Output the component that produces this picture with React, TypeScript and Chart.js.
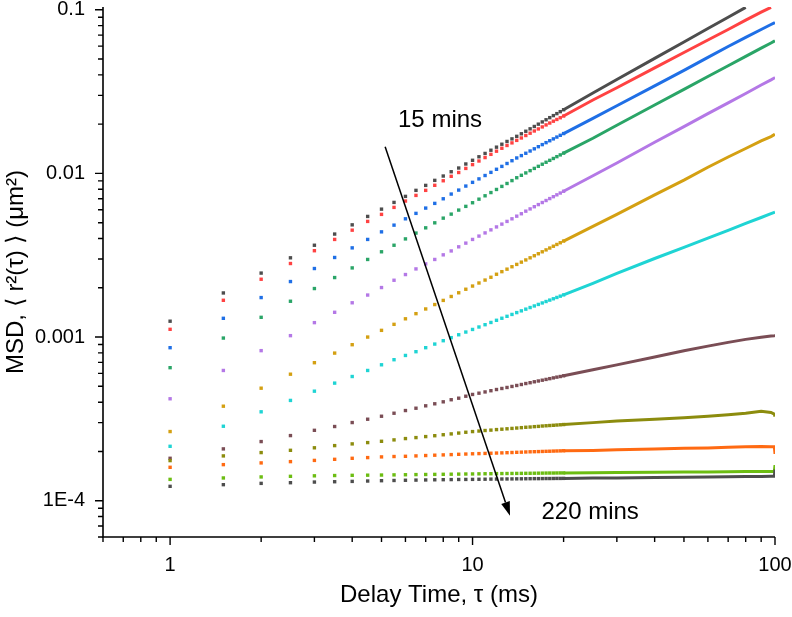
import { useEffect, useRef } from "react";
import { Chart, registerables } from "chart.js";

Chart.register(...registerables);

// Delay times (ms) of the separately visible dots
const dotTau = [1, 1.5, 2, 2.5, 3, 3.5, 4, 4.5, 5, 5.5, 6, 6.5, 7, 7.5, 8, 8.5, 9, 9.5, 10,
  10.5, 11, 11.5, 12, 12.5, 13, 13.5, 14, 14.5, 15, 15.5, 16, 16.5, 17, 17.5, 18, 18.5, 19, 19.5, 20];
// Delay times (ms) where the dots merge into a continuous trace
const lineTau = [20, 25, 30, 40, 50, 60, 70, 80, 90, 97, 99.5, 100];

// MSD values in units of 1e-4 µm², one array per incubation time (15 mins -> 220 mins)
const UNIT = 1e-4;
const s01Dots = [12.5, 18.6, 24.6, 30.5, 36.4, 42.6, 48.5, 54.6, 60.5, 66.5, 72.4, 78.8, 84.5, 90.7, 96.4, 102.4, 107.9, 114.2, 120.3,
  126.4, 132.5, 138.6, 144.7, 150.8, 156.8, 162.6, 168.5, 174.7, 181, 187.3, 193.6, 200, 206.4, 212.8, 219.2, 225.6, 232, 238.5, 245];
const s01Line = [245, 310, 375, 505, 635, 768, 900, 1035, null, null, null, null];
const s02Dots = [11.15, 16.78, 22.56, 28.15, 33.7, 39.5, 45.0, 50.9, 56.2, 62.0, 67.8, 73.4, 78.8, 84.6, 90.2, 96.0, 101.3, 107.3, 113.2,
  119.1, 125, 130.8, 136.7, 142.5, 148.2, 153.7, 159.2, 164.7, 170.5, 176.1, 181.7, 187, 192.4, 197.9, 203.2, 208.5, 213.7, 218.9, 224.2];
const s02Line = [224.2, 281, 334, 442, 548, 654, 758, 864, 967, 1035, null, null];
const s03Dots = [8.61, 13.02, 17.43, 21.84, 26.23, 30.64, 35.08, 39.5, 43.95, 48.3, 52.8, 57.0, 61.4, 65.6, 70.0, 74.8, 79.1, 83.7, 88.2,
  92.6, 97.1, 101.5, 106, 110.4, 115, 119.6, 124.3, 128.5, 132.8, 137.1, 141.4, 145.7, 150, 154.2, 158.4, 162.6, 166.8, 171, 175.2];
const s03Line = [175.2, 217, 259, 343, 426, 512, 597, 678, 758, 813, 832, 837];
const s04Dots = [6.5, 9.86, 13.2, 16.55, 19.79, 23.1, 26.46, 29.8, 33.2, 36.4, 39.8, 43.2, 46.5, 49.9, 53.3, 56.4, 59.7, 62.9, 66.2,
  69.6, 73, 76.4, 79.8, 83.3, 86.8, 90.4, 94.1, 97.4, 100.7, 104, 107.3, 110.5, 113.8, 117, 120.2, 123.4, 126.6, 129.8, 133];
const s04Line = [133, 164, 197, 262, 326, 391, 455, 519, 583, 627, 643, 647];
const s05Dots = [4.196, 6.25, 8.26, 10.2, 12.25, 14.17, 16.2, 18.06, 20.07, 22.24, 24.1, 26.09, 28.0, 29.8, 31.8, 33.6, 35.6, 37.5, 39.5,
  41.4, 43.3, 45.2, 47.1, 49.0, 50.9, 52.8, 54.8, 56.7, 58.8, 60.7, 62.6, 64.5, 66.4, 68.3, 70.2, 72.1, 74.0, 75.9, 77.8];
const s05Line = [77.8, 96.8, 115.8, 155, 193, 232, 270, 308, 347, 373, 383, 385];
const s06Dots = [2.646, 3.78, 4.87, 5.93, 6.97, 7.98, 8.98, 10.0, 10.99, 11.96, 12.93, 13.9, 14.85, 15.8, 16.75, 17.7, 18.65, 19.6, 20.5,
  21.4, 22.3, 23.2, 24.2, 25.1, 26.0, 26.9, 27.8, 28.7, 29.6, 30.5, 31.4, 32.3, 33.2, 34.1, 35.0, 35.9, 36.8, 37.7, 38.6];
const s06Line = [38.6, 47.5, 56.2, 74, 91, 109, 126, 142, 158, 168, 172.5, 174];
const s07Dots = [2.15, 2.851, 3.493, 4.1, 4.67, 5.23, 5.74, 6.25, 6.77, 7.27, 7.72, 8.14, 8.61, 9.06, 9.5, 9.92, 10.33, 10.73, 11.13,
  11.52, 11.9, 12.28, 12.66, 13.03, 13.39, 13.75, 14.11, 14.46, 14.81, 15.15, 15.49, 15.83, 16.16, 16.49, 16.82, 17.14, 17.46, 17.78, 18.1];
const s07Line = [18.1, 21.3, 24.5, 30.2, 35.3, 40.2, 44.9, 49.5, 53.8, 56.8, 57.8, 58.0];
const s08Dots = [1.816, 2.073, 2.298, 2.5, 2.692, 2.84, 3.003, 3.147, 3.282, 3.424, 3.556, 3.674, 3.8, 3.91, 4.02, 4.14, 4.23, 4.35, 4.46,
  4.54, 4.62, 4.7, 4.78, 4.85, 4.92, 4.99, 5.06, 5.13, 5.2, 5.26, 5.33, 5.39, 5.45, 5.51, 5.57, 5.63, 5.69, 5.74, 5.8];
const s08Line = [5.8, 6.31, 6.76, 7.55, 8.25, 8.8, 9.28, 9.68, 9.98, 10.15, 10.2, 10.22];
const s09Dots = [1.758, 1.878, 1.968, 2.032, 2.105, 2.171, 2.224, 2.265, 2.307, 2.353, 2.397, 2.43, 2.465, 2.495, 2.53, 2.56, 2.59, 2.62, 2.645,
  2.665, 2.685, 2.7, 2.72, 2.735, 2.75, 2.765, 2.78, 2.795, 2.81, 2.82, 2.835, 2.845, 2.86, 2.87, 2.88, 2.89, 2.9, 2.91, 2.92];
const s09Line = [2.92, 3.0, 3.07, 3.15, 3.21, 3.28, 3.35, 3.42, 3.52, 3.46, 3.38, 3.27];
const s10Dots = [1.6, 1.661, 1.702, 1.733, 1.763, 1.79, 1.816, 1.834, 1.852, 1.862, 1.868, 1.878, 1.888, 1.897, 1.905, 1.913, 1.921, 1.928, 1.935,
  1.94, 1.945, 1.95, 1.955, 1.96, 1.965, 1.97, 1.975, 1.98, 1.985, 1.99, 1.993, 1.996, 2.0, 2.003, 2.006, 2.01, 2.013, 2.016, 2.02];
const s10Line = [2.02, 2.03, 2.045, 2.07, 2.09, 2.1, 2.12, 2.135, 2.145, 2.14, 2.14, 1.93];
const s11Dots = [1.35, 1.377, 1.397, 1.409, 1.419, 1.425, 1.429, 1.432, 1.435, 1.438, 1.441, 1.444, 1.446, 1.448, 1.45, 1.452, 1.454, 1.456, 1.457,
  1.459, 1.461, 1.462, 1.464, 1.465, 1.466, 1.467, 1.468, 1.469, 1.47, 1.471, 1.472, 1.473, 1.474, 1.475, 1.476, 1.476, 1.477, 1.478, 1.478];
const s11Line = [1.478, 1.482, 1.485, 1.49, 1.495, 1.5, 1.503, 1.507, 1.51, 1.51, 1.51, 1.65];
const s12Dots = [1.224, 1.253, 1.276, 1.288, 1.3, 1.306, 1.312, 1.319, 1.325, 1.329, 1.333, 1.336, 1.339, 1.342, 1.344, 1.346, 1.348, 1.349, 1.35,
  1.352, 1.353, 1.355, 1.356, 1.357, 1.358, 1.359, 1.36, 1.361, 1.362, 1.363, 1.364, 1.364, 1.365, 1.366, 1.366, 1.367, 1.368, 1.368, 1.369];
const s12Line = [1.369, 1.374, 1.378, 1.385, 1.392, 1.397, 1.401, 1.405, 1.408, 1.409, 1.409, 1.55];

const seriesColors = ["#4d4d4d", "#ff4242", "#1f6fe6", "#2aa567", "#b478e6", "#d4a012", "#1fd4d4",
  "#7a4d55", "#8c8c0e", "#ff6a12", "#6cbd12", "#4d4d4d"];

// Axis ticks
const xTicks = [0.6, 0.7, 0.8, 0.9, 1, 2, 3, 4, 5, 6, 7, 8, 9, 10, 20, 30, 40, 50, 60, 70, 80, 90, 100];
const xMajor = [1, 10, 100];
const xMajorLabels = ["1", "10", "100"];
const yTicks = [6e-5, 7e-5, 8e-5, 9e-5, 1e-4, 2e-4, 3e-4, 4e-4, 5e-4, 6e-4, 7e-4, 8e-4, 9e-4,
  1e-3, 2e-3, 3e-3, 4e-3, 5e-3, 6e-3, 7e-3, 8e-3, 9e-3, 0.01, 0.02, 0.03, 0.04, 0.05, 0.06, 0.07, 0.08, 0.09, 0.1];
const yMajor = [1e-4, 1e-3, 0.01, 0.1];
const yMajorLabels = ["1E-4", "0.001", "0.01", "0.1"];

// Annotations (data coordinates)
const arrowFrom = [5.14, 0.01457];
const arrowTo = [13.3, 8.09e-5];
const noteTop = { text: "15 mins", tau: 5.67, msd: 0.0193 };
const noteBottom = { text: "220 mins", tau: 16.9, msd: 7.76e-5 };

const FONT = "'Liberation Sans', Arial, Helvetica, sans-serif";

const near = (a: number, b: number) => Math.abs(a - b) / b < 1e-6;
const majorIndex = (v: number, list: number[]) => list.findIndex((m) => near(v, m));

const decorPlugin = {
  id: "decor",
  afterDraw(chart: any) {
    const { ctx, chartArea: a, scales } = chart;
    const x = scales.x;
    const y = scales.y;
    ctx.save();
    ctx.strokeStyle = "#000";
    ctx.lineWidth = 1.6;
    ctx.beginPath();
    ctx.moveTo(a.left, a.top);
    ctx.lineTo(a.left, a.bottom);
    ctx.lineTo(a.right, a.bottom);
    ctx.stroke();
    ctx.lineWidth = 1.4;
    ctx.beginPath();
    for (const v of xTicks) {
      const px = x.getPixelForValue(v);
      const len = majorIndex(v, xMajor) >= 0 ? 8 : 5;
      ctx.moveTo(px, a.bottom);
      ctx.lineTo(px, a.bottom + len);
    }
    for (const v of yTicks) {
      const py = y.getPixelForValue(v);
      const len = majorIndex(v, yMajor) >= 0 ? 8 : 5;
      ctx.moveTo(a.left, py);
      ctx.lineTo(a.left - len, py);
    }
    ctx.stroke();

    // arrow
    const x1 = x.getPixelForValue(arrowFrom[0]);
    const y1 = y.getPixelForValue(arrowFrom[1]);
    const x2 = x.getPixelForValue(arrowTo[0]);
    const y2 = y.getPixelForValue(arrowTo[1]);
    const ang = Math.atan2(y2 - y1, x2 - x1);
    const headLen = 14;
    const headHalf = 4.5;
    const bx = x2 - headLen * Math.cos(ang);
    const by = y2 - headLen * Math.sin(ang);
    ctx.lineWidth = 1.5;
    ctx.beginPath();
    ctx.moveTo(x1, y1);
    ctx.lineTo(bx, by);
    ctx.stroke();
    ctx.fillStyle = "#000";
    ctx.beginPath();
    ctx.moveTo(x2, y2);
    ctx.lineTo(bx + headHalf * Math.sin(ang), by - headHalf * Math.cos(ang));
    ctx.lineTo(bx - headHalf * Math.sin(ang), by + headHalf * Math.cos(ang));
    ctx.closePath();
    ctx.fill();

    ctx.font = `24px ${FONT}`;
    ctx.textAlign = "left";
    ctx.textBaseline = "alphabetic";
    ctx.fillText(noteTop.text, x.getPixelForValue(noteTop.tau), y.getPixelForValue(noteTop.msd));
    ctx.fillText(noteBottom.text, x.getPixelForValue(noteBottom.tau), y.getPixelForValue(noteBottom.msd));
    ctx.restore();
  },
};

export default function App() {
  const ref = useRef<HTMLCanvasElement>(null);

  useEffect(() => {
    if (!ref.current) return;
    const dots = [s01Dots, s02Dots, s03Dots, s04Dots, s05Dots, s06Dots, s07Dots, s08Dots, s09Dots, s10Dots, s11Dots, s12Dots];
    const lines = [s01Line, s02Line, s03Line, s04Line, s05Line, s06Line, s07Line, s08Line, s09Line, s10Line, s11Line, s12Line];
    const datasets: any[] = [];
    for (let i = dots.length - 1; i >= 0; i--) {
      const color = seriesColors[i];
      datasets.push({
        data: dotTau.map((t, j) => ({ x: t, y: dots[i][j] * UNIT })),
        showLine: false,
        pointStyle: "rect",
        pointRadius: 2.4,
        pointHoverRadius: 2.4,
        pointBorderWidth: 0,
        backgroundColor: color,
        borderColor: color,
      });
      const pts: { x: number; y: number }[] = [];
      lineTau.forEach((t, j) => {
        const v = lines[i][j];
        if (v !== null && v !== undefined) pts.push({ x: t, y: (v as number) * UNIT });
      });
      datasets.push({
        data: pts,
        showLine: true,
        pointRadius: 0,
        pointHoverRadius: 0,
        borderWidth: 3,
        borderColor: color,
        backgroundColor: color,
        fill: false,
        tension: 0,
      });
    }

    const chart = new Chart(ref.current, {
      type: "scatter",
      data: { datasets },
      options: {
        animation: false,
        responsive: false,
        devicePixelRatio: 1,
        events: [],
        layout: { padding: { top: 7, right: 17, bottom: 0, left: 0 } },
        plugins: { legend: { display: false }, tooltip: { enabled: false } },
        scales: {
          x: {
            type: "logarithmic",
            min: 0.6,
            max: 100,
            afterBuildTicks: (s: any) => {
              s.ticks = xTicks.map((v) => ({ value: v }));
            },
            afterFit: (s: any) => {
              s.height = 80;
              s.paddingLeft = 0;
              s.paddingRight = 0;
            },
            grid: { display: false, drawTicks: false },
            border: { display: false },
            ticks: {
              autoSkip: false,
              maxRotation: 0,
              padding: 16,
              color: "#000",
              font: { family: FONT, size: 20 },
              callback: (v: any) => {
                const k = majorIndex(Number(v), xMajor);
                return k >= 0 ? xMajorLabels[k] : "";
              },
            },
            title: {
              display: true,
              text: "Delay Time, τ (ms)",
              color: "#000",
              font: { family: FONT, size: 24 },
              padding: { top: 0, bottom: 7.6 },
            },
          },
          y: {
            type: "logarithmic",
            min: 6e-5,
            max: 0.104,
            afterBuildTicks: (s: any) => {
              s.ticks = yTicks.map((v) => ({ value: v }));
            },
            afterFit: (s: any) => {
              s.width = 103;
              s.paddingTop = 0;
              s.paddingBottom = 0;
            },
            grid: { display: false, drawTicks: false },
            border: { display: false },
            ticks: {
              autoSkip: false,
              padding: 18,
              color: "#000",
              font: { family: FONT, size: 20 },
              callback: (v: any) => {
                const k = majorIndex(Number(v), yMajor);
                return k >= 0 ? yMajorLabels[k] : "";
              },
            },
            title: {
              display: true,
              text: "MSD, ⟨ r²(τ) ⟩ (μm²)",
              color: "#000",
              font: { family: FONT, size: 24 },
              padding: { top: 2.3, bottom: 0 },
            },
          },
        },
      },
      plugins: [decorPlugin],
    });
    return () => chart.destroy();
  }, []);

  return (
    <div style={{ position: "fixed", left: 0, top: 0, width: 792, height: 617, background: "#fff" }}>
      <canvas ref={ref} width={792} height={617} style={{ width: 792, height: 617, display: "block" }} />
    </div>
  );
}
